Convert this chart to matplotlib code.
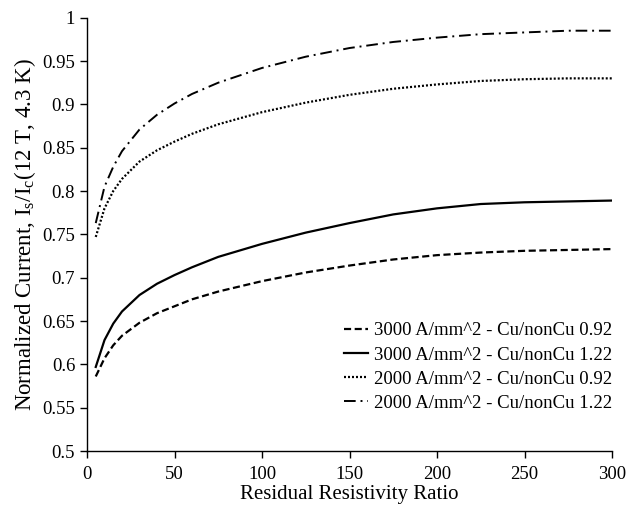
import matplotlib.pyplot as plt

plt.rcParams['font.family'] = ['Liberation Serif', 'DejaVu Serif']

rrr = [5, 10, 15, 20, 30, 40, 50, 60, 75, 100, 125, 150, 175, 200, 225, 250, 275, 300]

# 3000 A/mm^2, Cu/nonCu 0.92
j3000_092 = [0.586, 0.607, 0.622, 0.633, 0.648, 0.659, 0.667, 0.675, 0.684, 0.696,
             0.706, 0.714, 0.721, 0.726, 0.729, 0.731, 0.732, 0.733]
# 3000 A/mm^2, Cu/nonCu 1.22
j3000_122 = [0.597, 0.628, 0.647, 0.661, 0.680, 0.693, 0.703, 0.712, 0.724, 0.739,
             0.752, 0.763, 0.773, 0.780, 0.785, 0.787, 0.788, 0.789]
# 2000 A/mm^2, Cu/nonCu 0.92
j2000_092 = [0.747, 0.780, 0.800, 0.814, 0.834, 0.847, 0.857, 0.866, 0.877, 0.891,
             0.902, 0.911, 0.918, 0.923, 0.927, 0.929, 0.930, 0.930]
# 2000 A/mm^2, Cu/nonCu 1.22
j2000_122 = [0.763, 0.805, 0.828, 0.846, 0.871, 0.888, 0.901, 0.912, 0.925, 0.942,
             0.955, 0.965, 0.972, 0.977, 0.981, 0.983, 0.985, 0.985]

labels = ['3000 A/mm^2 - Cu/nonCu 0.92', '3000 A/mm^2 - Cu/nonCu 1.22',
          '2000 A/mm^2 - Cu/nonCu 0.92', '2000 A/mm^2 - Cu/nonCu 1.22']

fig = plt.figure(figsize=(6.26, 5.08), dpi=100)
ax = fig.add_axes([87 / 626, 1 - 451 / 508, (612 - 87) / 626, (451 - 17.7) / 508])

ax.plot(rrr, j3000_092, color='black', lw=1.6, dashes=(3.2, 1.6), label=labels[0])
ax.plot(rrr, j3000_122, color='black', lw=1.6, label=labels[1])
ax.plot(rrr, j2000_092, color='black', lw=1.6, dashes=(0.9, 0.9), label=labels[2])
ax.plot(rrr, j2000_122, color='black', lw=1.4, dashes=(6, 2.5, 1, 2.5), label=labels[3])

ax.set_xlim(0, 300)
ax.set_ylim(0.5, 1.0)
ax.set_xticks([0, 50, 100, 150, 200, 250, 300])
ax.set_yticks([0.5, 0.55, 0.6, 0.65, 0.7, 0.75, 0.8, 0.85, 0.9, 0.95, 1.0])
ax.set_yticklabels(['0.5', '0.55', '0.6', '0.65', '0.7', '0.75', '0.8', '0.85', '0.9', '0.95', '1'])
ax.tick_params(direction='out', length=5, width=1, labelsize=13.5, colors='black')
ax.tick_params(axis='x', pad=6)
for s in ['top', 'right']:
    ax.spines[s].set_visible(False)
for s in ['left', 'bottom']:
    ax.spines[s].set_linewidth(1)

ax.set_xlabel('Residual Resistivity Ratio', fontsize=15, labelpad=1)
ax.set_ylabel('Normalized Current, I$_\\mathregular{s}$/I$_\\mathregular{c}$(12 T, 4.3 K)',
              fontsize=16.5, labelpad=3)

ax.legend(loc='lower right', bbox_to_anchor=(1.0, 0.09), frameon=False, fontsize=13.5,
          handlelength=1.3, handletextpad=0.3, labelspacing=0.38, borderaxespad=0,
          borderpad=0)

fig.savefig('out.png', dpi=100)
